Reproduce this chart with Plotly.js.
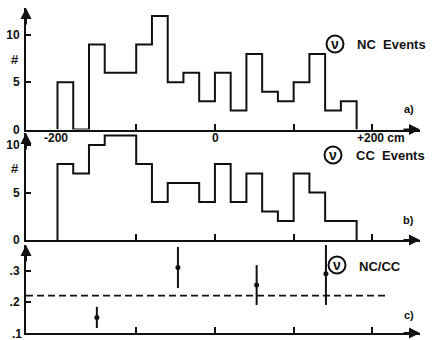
<!DOCTYPE html>
<html><head><meta charset="utf-8">
<script src="https://cdn.plot.ly/plotly-3.0.1.min.js"></script>
<style>html,body{margin:0;padding:0;background:#fff}#c{width:435px;height:340px}</style>
</head><body><div id="c"></div>
<script>
// Data
const binEdges = [-200,-180,-160,-140,-120,-100,-80,-60,-40,-20,0,20,40,60,80,100,120,140,160,180];
const ncCounts = [5,0,9,6,6,9,12,5,6,3,6,2,8,4,3,5,8,2,3];
const ccCounts = [8,7,10,11,11,8,4,6,6,4,8,4,7,3,2,7,5,2,2];
const ratioX = [-150,-47,53,141];
const ratioY = [0.15,0.31,0.254,0.29];
const ratioErr = [0.034,0.066,0.064,0.10];
const ratioMean = 0.22;
const ratioMeanSpan = [-240,220];

function stepXY(edges, counts){
  const x=[edges[0]], y=[0];
  for(let i=0;i<counts.length;i++){x.push(edges[i]);y.push(counts[i]);}
  x.push(edges[counts.length]); y.push(0);
  return {x,y};
}
const W=435,H=340,L=26,R=15;
const px = X => (X-L)/(W-L-R);
const py = Y => 1 - Y/H;

const nc = stepXY(binEdges, ncCounts);
const cc = stepXY(binEdges, ccCounts);
const blk='#111';
const lineS={color:blk,width:2,shape:'hv'};

const traces=[
 {x:nc.x,y:nc.y,xaxis:'x',yaxis:'y',mode:'lines',line:lineS,hoverinfo:'skip'},
 {x:cc.x,y:cc.y,xaxis:'x2',yaxis:'y2',mode:'lines',line:lineS,hoverinfo:'skip'},
 {x:ratioMeanSpan,y:[ratioMean,ratioMean],xaxis:'x3',yaxis:'y3',mode:'lines',line:{color:blk,width:1.6,dash:'7px,4px'}},
 {x:ratioX,y:ratioY,xaxis:'x3',yaxis:'y3',mode:'markers',cliponaxis:false,
  marker:{color:blk,size:5},error_y:{type:'data',array:ratioErr,visible:true,color:blk,thickness:2,width:0}}
];

const font={family:'"Liberation Sans", Arial, sans-serif',size:11,color:blk,weight:'bold'};
const xr=[-240,260.5];
function xax(anchor){return {range:xr,anchor:anchor,showgrid:false,zeroline:false,showline:true,linewidth:2,linecolor:blk,
  ticks:'inside',ticklen:6,tickwidth:2,tickcolor:blk,tickvals:[-100,0,100,200],showticklabels:false,fixedrange:true};}
function yax(domain,range,tv,tt){return {domain:domain,range:range,showgrid:false,zeroline:false,showline:true,linewidth:2,linecolor:blk,
  ticks:'inside',ticklen:5,tickwidth:2,tickcolor:blk,tickvals:tv,ticktext:tt,tickfont:Object.assign({},font,{size:12}),ticklabelstandoff:2,automargin:false,fixedrange:true};}

const layout={
 width:W,height:H,margin:{l:L,r:R,t:0,b:0},paper_bgcolor:'#fff',plot_bgcolor:'rgba(0,0,0,0)',showlegend:false,font:font,
 xaxis:xax('y'),xaxis2:xax('y2'),xaxis3:xax('y3'),
 yaxis:yax([py(129.5),py(8)],[0,(129.5-8)/9.45],[0,5,10],['0','5','10']),
 yaxis2:yax([py(240),py(133)],[0,(240-133)/9.5],[0,5,10],['0','5','10']),
 yaxis3:yax([py(333),py(245)],[0.1,0.1+(333-245)/311.5],[0.2,0.3],['.2','.3']),
 shapes:[],annotations:[]
};
const A=layout.annotations, S=layout.shapes;
function txt(t,X,Y,anchor,size){A.push({text:t,x:px(X),y:py(Y),xref:'paper',yref:'paper',showarrow:false,xanchor:anchor||'center',yanchor:'middle',
  font:Object.assign({},font,{size:size||11})});}
function nu(X,Y){S.push({type:'circle',xref:'paper',yref:'paper',x0:px(X-8.5),x1:px(X+8.5),y0:py(Y+8.5),y1:py(Y-8.5),line:{color:blk,width:2}});
  txt('ν',X,Y,'center',14);}
// arrows
[['y',(129.5-8)/9.45,'x'],['y2',(240-133)/9.5,'x2'],['y3',0.1+(333-245)/311.5,'x3']].forEach(a=>{
  A.push({x:xr[0],y:a[1],xref:a[2],yref:a[0],text:'',showarrow:true,ax:0,ay:18,arrowhead:2,arrowsize:1.1,arrowwidth:2,arrowcolor:blk});
});
[['y',0,'x'],['y2',0,'x2'],['y3',0.1,'x3']].forEach(a=>{
  A.push({x:xr[1],y:a[1],xref:a[2],yref:a[0],text:'',showarrow:true,ax:-18,ay:0,arrowhead:2,arrowsize:1.1,arrowwidth:2,arrowcolor:blk});
});
txt('#',15,59,'center',13);
txt('#',15,168,'center',13);
txt('.1',17,334,'center',12);
txt('-200',56,138,'center',12);
txt('0',215,138,'center',12);
txt('+200 cm',355,138,'left',12);
nu(335,44); txt('NC  Events',355,45,'left',13);
nu(333,155); txt('CC  Events',354,156,'left',13);
nu(337,265); txt('NC/CC',357,266,'left',13);
txt('a)',409,109,'center',11);
txt('b)',408,220,'center',11);
txt('c)',409,315,'center',11);

Plotly.newPlot('c',traces,layout,{staticPlot:true,displayModeBar:false});
</script></body></html>
